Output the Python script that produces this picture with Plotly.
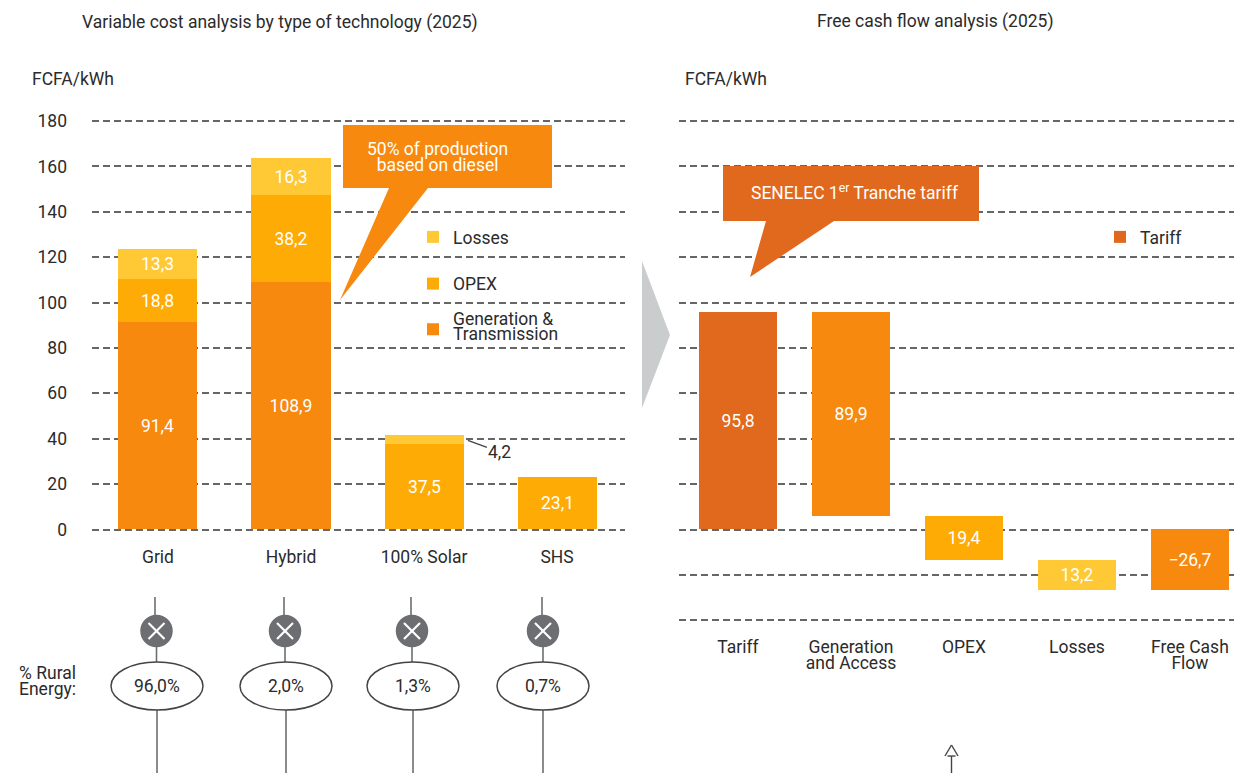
import numpy as np
import plotly.graph_objects as go

# ---- data ----
technologies = ["Grid", "Hybrid", "100% Solar", "SHS"]
generation = [91.4, 108.9, 0, 0]
opex = [18.8, 38.2, 37.5, 23.1]
losses = [13.3, 16.3, 4.2, 0]
rural_share = [96.0, 2.0, 1.3, 0.7]

cash_steps = ["Tariff", "Generation<br>and Access", "OPEX", "Losses", "Free Cash<br>Flow"]
tariff = [95.8]
step_values = [89.9, 19.4, 13.2, -26.7]

y_ticks_left = [0, 20, 40, 60, 80, 100, 120, 140, 160, 180]
y_ticks_right = [-40, -20] + y_ticks_left

# ---- style ----
W, H = 1236, 773
PAGE_TOP, PAGE_BOTTOM = 3, 770
ORANGE, AMBER, YELLOW, RUST = "#F7890E", "#FFAB06", "#FFC835", "#E0691D"
INK = "#2b2b2b"
GRID = "#666666"
GRAY = "#6D6E71"
FONT = "Roboto"
SIZE = 17.5

def px(x): return x / W
def py(y): return 1 - (y - PAGE_TOP) / (PAGE_BOTTOM - PAGE_TOP)
Y0, SCALE = 529.5, 408.5 / 180
def yp(v): return Y0 - v * SCALE
def fmt(v): return f"{v:.1f}".replace(".", ",")

fig = go.Figure()

g, o, l = map(np.array, (generation, opex, losses))
cats = np.array(technologies)
W_L = 0.594
common = dict(insidetextanchor="middle", textangle=0,
              textfont=dict(color="white", size=SIZE, family=FONT), constraintext="none",
              marker_line_width=0)

def stack(name, vals, base, color, legend):
    keep = vals > 0
    shown = vals[keep]
    fig.add_bar(name=name, x=cats[keep], y=shown, base=base[keep], width=W_L, marker_color=color,
                text=[fmt(v) for v in shown],
                textposition=["inside" if v > 5 else "none" for v in shown],
                legendgroup=name, legend=legend, xaxis="x", yaxis="y", **common)

stack("Losses", l, g + o, YELLOW, "legend")
stack("OPEX", o, g, AMBER, "legend")
stack("Generation &<br>Transmission", g, np.zeros(4), ORANGE, "legend3")

# right waterfall
W_R = 0.69
gen_v, opx_v, los_v, fcf_v = step_values
t = tariff[0]
bases = [t - gen_v, t - gen_v - opx_v, t - gen_v - opx_v - los_v, fcf_v]
heights = [gen_v, opx_v, los_v, -fcf_v]
fig.add_bar(name="Tariff", x=cash_steps[:1], y=tariff, base=[0], width=W_R, marker_color=RUST,
            text=[fmt(t)], textposition="inside", xaxis="x2", yaxis="y2", legend="legend2", **common)
fig.add_bar(name="Cash flow", x=cash_steps[1:], y=heights, base=bases, width=W_R,
            marker_color=[ORANGE, AMBER, YELLOW, ORANGE],
            text=[fmt(v).replace("-", "\u2212") for v in step_values], textposition="inside",
            xaxis="x2", yaxis="y2", showlegend=False, **common)

shapes = []
def path(d, color, layer="above"):
    shapes.append(dict(type="path", path=d, xref="paper", yref="paper", fillcolor=color,
                       line=dict(width=0), layer=layer))
def poly(points, color, layer="above"):
    d = "M" + " L".join(f"{px(x):.5f},{py(y):.5f}" for x, y in points) + " Z"
    path(d, color, layer)
def seg(x0, y0, x1, y1, color=GRAY, width=1.6):
    shapes.append(dict(type="line", xref="paper", yref="paper", x0=px(x0), x1=px(x1), y0=py(y0), y1=py(y1),
                       line=dict(color=color, width=width)))
def oval(cx, cy, rx, ry, fill, line=None):
    shapes.append(dict(type="circle", xref="paper", yref="paper", x0=px(cx - rx), x1=px(cx + rx),
                       y0=py(cy + ry), y1=py(cy - ry), fillcolor=fill,
                       line=dict(color=line or fill, width=1.5)))

# callouts and the grey chevron
poly([(343, 125), (552, 125), (552, 188), (428, 188), (340, 300), (389, 188), (343, 188)], ORANGE)
poly([(723, 166), (979, 166), (979, 221), (834, 221), (750, 277), (766, 221), (723, 221)], RUST)
poly([(642, 261), (670, 335), (642, 408)], "#C9CDCE")

# rural energy connectors
top_x = [155, 284, 411, 542]
mid_x = [156.5, 285, 412, 543]
low_x = [157, 286, 413, 543]
for a, b, c in zip(top_x, mid_x, low_x):
    seg(a, 597, a, 616)
    seg(b, 645, b, 662)
    seg(c, 709, c, 776)
    oval(b, 631, 15.5, 15.5, GRAY)
    seg(b - 8, 623, b + 8, 639, "white", 2.2)
    seg(b - 8, 639, b + 8, 623, "white", 2.2)
    oval(c, 686, 46, 24, "white", "#444444")

# small up arrow
seg(951.5, 756, 951.5, 776, "#444444", 1.4)
seg(947.5, 756, 951.5, 756, "#444444", 1.4)
seg(955.5, 756, 951.5, 756, "#444444", 1.4)
seg(945, 756, 951.5, 745, "#444444", 1.4)
seg(958, 756, 951.5, 745, "#444444", 1.4)

ann = []
def label(x, y, text, color=INK, size=SIZE, anchor="center"):
    ann.append(dict(x=px(x), y=py(y), xref="paper", yref="paper", text=text, showarrow=False,
                    xanchor=anchor, yanchor="middle", align=anchor,
                    font=dict(family=FONT, size=size, color=color)))

label(280, 22, "Variable cost analysis by type of technology (2025)")
label(935, 21, "Free cash flow analysis (2025)")
label(30, 79, "FCFA/kWh", anchor="left")
label(683, 79, "FCFA/kWh", anchor="left")
label(437, 160, "50% of production<br>based on diesel", "white")
label(855, 192, "SENELEC 1<sup>er</sup> Tranche tariff", "white")
label(78, 684, "% Rural<br>Energy:", anchor="right")
for c, v in zip(low_x, rural_share):
    label(c, 686, fmt(v) + "%")

# 4,2 leader
ann.append(dict(x=2.33, y=39.3, xref="x", yref="y", text=fmt(losses[2]), showarrow=True, arrowhead=0,
                arrowwidth=1.3, arrowcolor="#444444", ax=32, ay=12, standoff=0,
                font=dict(family=FONT, size=SIZE, color=INK)))

grid = dict(showgrid=True, gridcolor=GRID, griddash="7px,4px", gridwidth=1.8, zeroline=False,
            showline=False, ticks="")
tickfont = dict(family=FONT, size=SIZE, color=INK)
legend_style = dict(xanchor="left", yanchor="top", bgcolor="rgba(255,255,255,0)",
                    font=dict(family=FONT, size=SIZE, color=INK),
                    itemclick=False, itemdoubleclick=False)

fig.update_layout(
    width=W, height=H, margin=dict(l=0, r=0, t=0, b=0), autosize=False,
    paper_bgcolor="white", plot_bgcolor="white", barmode="overlay", bargap=0,
    font=dict(family=FONT, size=SIZE, color=INK),
    shapes=shapes, annotations=ann,
    xaxis=dict(domain=[px(92), px(625)], range=[-0.496, 3.511], type="category", anchor="y",
               categoryorder="array", categoryarray=technologies, showgrid=False, zeroline=False,
               ticks="", tickfont=tickfont, ticklabelstandoff=8),
    yaxis=dict(domain=[py(yp(-3)), py(yp(183))], range=[-3, 183], anchor="x", tickmode="array",
               tickvals=y_ticks_left, ticktext=[str(v) for v in y_ticks_left], tickfont=tickfont,
               ticklabelstandoff=24, **grid),
    xaxis2=dict(domain=[px(679), px(1234)], range=[-0.522, 4.39], type="category", anchor="y2",
                categoryorder="array", categoryarray=cash_steps, showgrid=False, zeroline=False,
                ticks="", tickfont=tickfont, ticklabelstandoff=10),
    yaxis2=dict(domain=[py(yp(-42)), py(yp(183))], range=[-42, 183], anchor="x2", tickmode="array",
                tickvals=y_ticks_right, showticklabels=False, **grid),
    legend=dict(x=px(413), y=py(219), traceorder="grouped", tracegroupgap=21, **legend_style),
    legend3=dict(x=px(413), y=py(300), **legend_style),
    legend2=dict(x=px(1100), y=py(219), **legend_style),
)

post = """
document.body.style.margin='0';
document.querySelectorAll('tspan.line').forEach(function(t){
  var d=t.getAttribute('dy'); if(d && d.indexOf('1.3')===0){t.setAttribute('dy','0.9em');}
});
"""
fig.write_html("out.html", post_script=post, config=dict(displayModeBar=False))
